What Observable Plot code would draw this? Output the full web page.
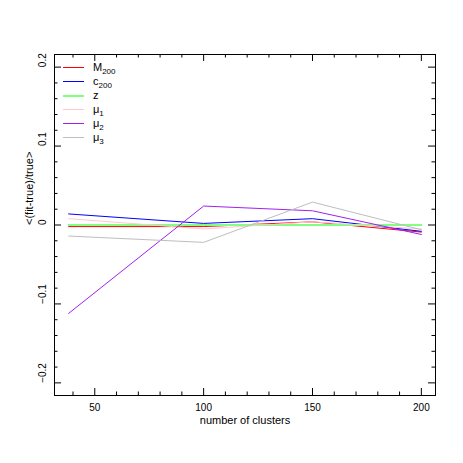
<!DOCTYPE html>
<html><head><meta charset="utf-8">
<script src="https://cdn.jsdelivr.net/npm/d3@7"></script>
<script src="https://cdn.jsdelivr.net/npm/@observablehq/plot@0.6"></script>
<style>
body{margin:0;background:#fff;}
#wrap{position:relative;width:463px;height:463px;font-family:"Liberation Sans",Arial,sans-serif;}
#legend{position:absolute;left:0;top:0;}
.row{position:absolute;left:63px;height:14px;font-size:11px;}
.row .ln{position:absolute;left:0;width:21px;top:7px;}
.row .tx{position:absolute;left:30px;top:0;line-height:14px;white-space:nowrap;}
sub{font-size:8px;vertical-align:-3px;line-height:0;}
</style>
</head><body>
<div id="wrap"><div id="legend"></div></div>
<script>
const clusters = [38, 100, 150, 200];
const seriesNames = ["M200", "c200", "z", "mu1", "mu2", "mu3"];
const seriesLabels = ["M<sub>200</sub>", "c<sub>200</sub>", "z", "μ<sub>1</sub>", "μ<sub>2</sub>", "μ<sub>3</sub>"];
const seriesColors = ["#ff0000", "#0000ff", "#80ff80", "#ffc8d0", "#a020f0", "#bebebe"];
const seriesWidths = [1, 1, 2, 1, 1, 1];
const M200 = [-0.002, -0.002, 0.004, -0.009];
const c200 = [0.014, 0.002, 0.008, -0.008];
const zVals = [0, 0, 0, 0];
const mu1 = [0.008, -0.005, 0.004, -0.005];
const mu2 = [-0.112, 0.024, 0.018, -0.012];
const mu3 = [-0.014, -0.022, 0.029, -0.006];
const seriesValues = [M200, c200, zVals, mu1, mu2, mu3];
const xMajor = [50, 100, 150, 200];
const xMinor = [40, 60, 70, 80, 90, 110, 120, 130, 140, 160, 170, 180, 190];
const yMajor = [-0.2, -0.1, 0, 0.1, 0.2];
const yMajorLabels = ["−0.2", "−0.1", "0", "0.1", "0.2"];
const yMinor = [-0.18, -0.16, -0.14, -0.12, -0.08, -0.06, -0.04, -0.02, 0.02, 0.04, 0.06, 0.08, 0.12, 0.14, 0.16, 0.18];
const xTitle = "number of clusters";
const yTitle = "<(fit-true)/true>";

const W = 463, H = 463, mL = 54, mR = 28, mT = 54, mB = 68;
const pw = W - mL - mR, ph = H - mT - mB;

const rows = [];
seriesNames.forEach((s, i) => clusters.forEach((c, j) => rows.push({s, x: c, y: seriesValues[i][j]})));

const marks = [Plot.frame({stroke: "#000"})];
seriesNames.forEach((s, i) => {
  marks.push(Plot.line(rows.filter(r => r.s === s), {x: "x", y: "y", stroke: seriesColors[i], strokeWidth: seriesWidths[i]}));
});
const tk = {stroke: "#000"};
marks.push(
  Plot.tickX(xMajor, {x: d => d, insetTop: ph - 7, ...tk}),
  Plot.tickX(xMajor, {x: d => d, insetBottom: ph - 7, ...tk}),
  Plot.tickX(xMinor, {x: d => d, insetTop: ph - 3.5, ...tk}),
  Plot.tickX(xMinor, {x: d => d, insetBottom: ph - 3.5, ...tk}),
  Plot.tickY(yMajor, {y: d => d, insetRight: pw - 7, ...tk}),
  Plot.tickY(yMajor, {y: d => d, insetLeft: pw - 7, ...tk}),
  Plot.tickY(yMinor, {y: d => d, insetRight: pw - 3.5, ...tk}),
  Plot.tickY(yMinor, {y: d => d, insetLeft: pw - 3.5, ...tk}),
  Plot.text(xMajor, {x: d => d, text: d => String(d), frameAnchor: "bottom", dy: 15, fontSize: 10, fill: "#000"}),
  Plot.text(yMajor, {y: d => d, text: (d, i) => yMajorLabels[i], frameAnchor: "left", dx: -12, rotate: -90, fontSize: 10, fill: "#000"}),
  Plot.text([xTitle], {text: d => d, frameAnchor: "bottom", dy: 28, fontSize: 11, fill: "#000"}),
  Plot.text([yTitle], {text: d => d, frameAnchor: "left", dx: -25, rotate: -90, fontSize: 11, fill: "#000"})
);

const chart = Plot.plot({
  width: W, height: H,
  marginLeft: mL, marginRight: mR, marginTop: mT, marginBottom: mB,
  style: {fontFamily: "'Liberation Sans', Arial, sans-serif", background: "#fff", color: "#000"},
  x: {domain: [31.5, 206.5], axis: null},
  y: {domain: [-0.216, 0.216], axis: null},
  marks
});
const wrap = document.getElementById("wrap");
wrap.insertBefore(chart, wrap.firstChild);

const legend = document.getElementById("legend");
seriesLabels.forEach((lab, i) => {
  const r = document.createElement("div");
  r.className = "row";
  r.style.top = (60 + i * 14) + "px";
  r.innerHTML = `<div class="ln" style="border-top:${seriesWidths[i]}px solid ${seriesColors[i]}"></div><div class="tx">${lab}</div>`;
  legend.appendChild(r);
});
</script>
</body></html>
